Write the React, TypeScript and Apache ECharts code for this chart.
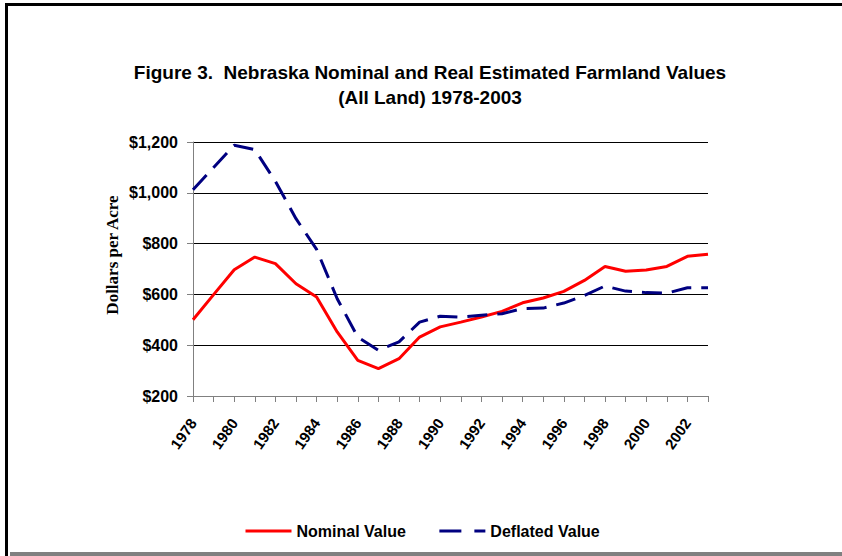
import React, { useEffect, useRef } from "react";
import * as echarts from "echarts";

const years = [
  "1978", "1979", "1980", "1981", "1982", "1983", "1984", "1985", "1986",
  "1987", "1988", "1989", "1990", "1991", "1992", "1993", "1994", "1995",
  "1996", "1997", "1998", "1999", "2000", "2001", "2002", "2003",
];
const nominalValue = [
  500, 599, 697, 747, 721, 642, 590, 452, 340, 308, 347, 432, 472, 491, 511,
  533, 567, 586, 612, 655, 710, 691, 696, 710, 750, 758,
];
const deflatedValue = [
  1012, 1100, 1187, 1170, 1045, 898, 777, 583, 432, 380, 413, 491, 514, 511,
  518, 524, 544, 546, 566, 596, 633, 613, 607, 605, 626, 626,
];
const titleLines = [
  "Figure 3.  Nebraska Nominal and Real Estimated Farmland Values",
  "(All Land) 1978-2003",
];
const yAxisTitle = "Dollars per Acre";
const seriesNames = ["Nominal Value", "Deflated Value"];

const SANS = "'Liberation Sans', Arial, sans-serif";
const SERIF = "'Liberation Serif', 'Times New Roman', serif";

export default function App() {
  const ref = useRef<HTMLDivElement>(null);
  useEffect(() => {
    if (!ref.current) return;
    const chart = echarts.init(ref.current, undefined, { renderer: "svg" });
    chart.setOption({
      animation: false,
      backgroundColor: "#ffffff",
      grid: { left: 193, right: 134, top: 142, bottom: 160, containLabel: false },
      graphic: [
        { type: "rect", shape: { x: 5, y: 3, width: 837, height: 3 }, style: { fill: "#000" } },
        { type: "rect", shape: { x: 5, y: 3, width: 3, height: 553 }, style: { fill: "#000" } },
        { type: "rect", shape: { x: 10, y: 552, width: 832, height: 4 }, style: { fill: "#808080" } },
        {
          type: "text", x: 430, y: 72,
          style: { text: titleLines[0], font: `bold 19px ${SANS}`, fill: "#000", textAlign: "center", textVerticalAlign: "middle" },
        },
        {
          type: "text", x: 430, y: 97,
          style: { text: titleLines[1], font: `bold 19px ${SANS}`, fill: "#000", textAlign: "center", textVerticalAlign: "middle" },
        },
        {
          type: "text", x: 112, y: 255, rotation: Math.PI / 2,
          style: { text: yAxisTitle, font: `bold 17px ${SERIF}`, fill: "#000", textAlign: "center", textVerticalAlign: "middle" },
        },
      ],
      legend: {
        left: 239,
        top: 518,
        itemWidth: 46,
        itemHeight: 14,
        itemGap: 32,
        itemStyle: { opacity: 0 },
        textStyle: { fontFamily: SANS, fontWeight: "bold", fontSize: 16, color: "#000" },
        data: [
          { name: seriesNames[0], itemStyle: { opacity: 0 }, lineStyle: { width: 3, color: "#ff0000", type: "solid" } },
          { name: seriesNames[1], itemStyle: { opacity: 0 }, lineStyle: { width: 3, color: "#000080", type: [22, 13] } },
        ],
      },
      xAxis: {
        type: "category",
        boundaryGap: false,
        data: years,
        axisLine: { lineStyle: { color: "#808080", width: 1 } },
        axisTick: { show: true, interval: 0, length: 6, lineStyle: { color: "#808080" } },
        axisLabel: {
          interval: 1,
          rotate: 55,
          margin: 24,
          fontFamily: SANS,
          fontWeight: "bold",
          fontSize: 15,
          color: "#000",
        },
        splitLine: { show: false },
      },
      yAxis: {
        type: "value",
        min: 200,
        max: 1200,
        interval: 200,
        axisLine: { show: true, lineStyle: { color: "#808080", width: 1 } },
        axisTick: { show: true, length: 6, lineStyle: { color: "#808080" } },
        axisLabel: {
          margin: 15,
          fontFamily: SANS,
          fontWeight: "bold",
          fontSize: 16,
          color: "#000",
          formatter: (v: number) => "$" + v.toLocaleString("en-US"),
        },
        splitLine: { show: true, lineStyle: { color: "#000", width: 1 } },
      },
      series: [
        {
          name: seriesNames[0],
          type: "line",
          data: nominalValue,
          symbol: "none",
          smooth: false,
          lineStyle: { color: "#ff0000", width: 3 },
          itemStyle: { color: "#ff0000" },
        },
        {
          name: seriesNames[1],
          type: "line",
          data: deflatedValue,
          symbol: "none",
          smooth: false,
          lineStyle: { color: "#000080", width: 3, type: [20, 10] },
          itemStyle: { color: "#000080" },
        },
      ],
    });
    return () => chart.dispose();
  }, []);
  return (
    <div
      ref={ref}
      style={{ position: "absolute", left: 0, top: 0, width: 842, height: 556 }}
    />
  );
}
